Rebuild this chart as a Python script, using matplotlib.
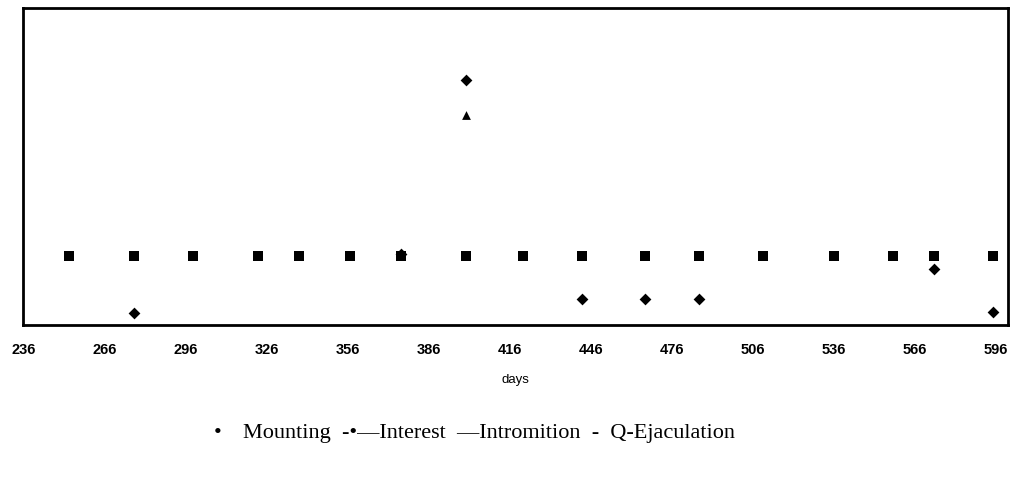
import matplotlib.pyplot as plt

mount_days = [253, 277, 299, 323, 338, 357, 376, 400, 421, 443, 466, 486, 510, 536, 558, 573, 595]
mount_vals = [2.0] * len(mount_days)

interest_days = [277, 376, 400, 443, 466, 486, 573, 595]
interest_vals = [0.35, 2.05, 7.1, 0.75, 0.75, 0.75, 1.62, 0.37]

intromit_days = [400]
intromit_vals = [6.1]

tick_days = list(range(236, 597, 30))

fig = plt.figure(figsize=(10.11, 4.78), dpi=100)
ax = fig.add_axes([0.023, 0.32, 0.974, 0.663])

ax.scatter(mount_days, mount_vals, marker="s", s=58, color="black", linewidths=0)
ax.scatter(interest_days, interest_vals, marker="D", s=36, color="black", linewidths=0)
ax.scatter(intromit_days, intromit_vals, marker="^", s=40, color="black", linewidths=0)

ax.set_xlim(236, 600.5)
ax.set_ylim(0, 9.2)
ax.set_xticks(tick_days)
ax.set_xticklabels([str(d) for d in tick_days], fontfamily="Liberation Sans",
                   fontweight="bold", fontsize=10.5)
ax.set_yticks([])
ax.tick_params(axis="x", length=0, pad=13)
for side in ax.spines.values():
    side.set_linewidth(2)
ax.set_xlabel("days", fontfamily="Liberation Sans", fontsize=9.5, labelpad=12)

fig.text(0.211, 0.094, "\u2022", fontfamily="Liberation Serif", fontsize=16, va="center")
fig.text(0.240, 0.094, "Mounting  -\u2022\u2014Interest  \u2014Intromition  -  Q-Ejaculation",
         fontfamily="Liberation Serif", fontsize=16, va="center")

fig.savefig("out.png", dpi=100)
